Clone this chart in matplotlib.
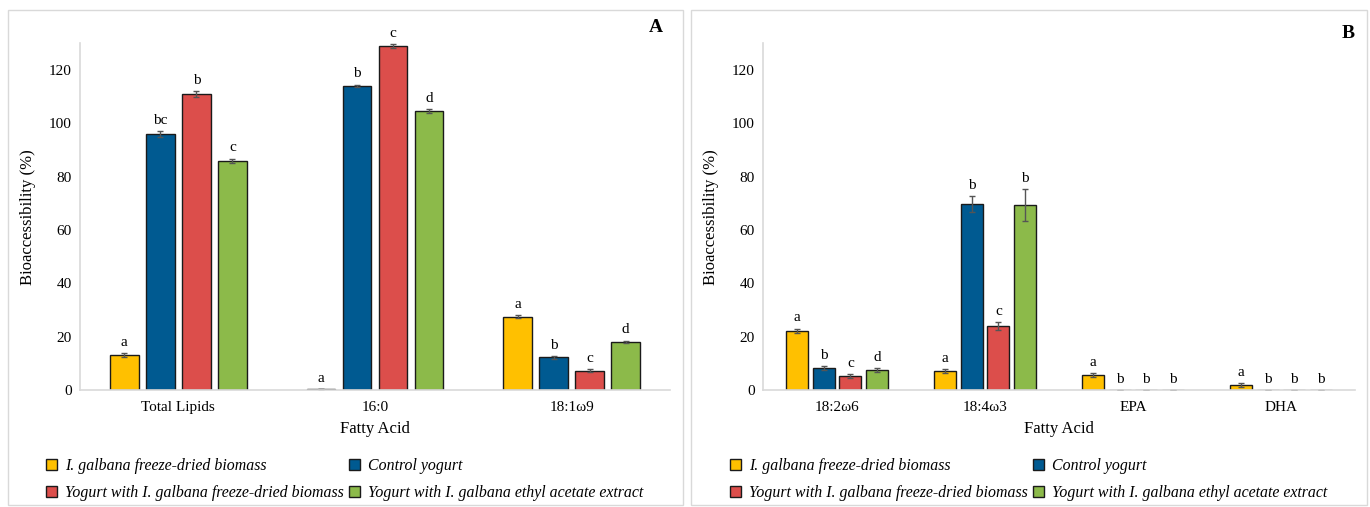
import matplotlib
matplotlib.use("Agg")
import matplotlib.pyplot as plt
from matplotlib.patches import Patch, Rectangle
import numpy as np

plt.rcParams['font.family'] = ['Liberation Serif', 'DejaVu Serif']

series = ["I. galbana freeze-dried biomass", "Control yogurt",
          "Yogurt with I. galbana freeze-dried biomass",
          "Yogurt with I. galbana ethyl acetate extract"]
colors = ["#FFC000", "#005A91", "#DC4E4B", "#8CBA4A"]

cats_a = ["Total Lipids", "16:0", "18:1ω9"]
vals_a = [[13.0, 0.3, 27.5],
          [96.0, 114.0, 12.3],
          [111.0, 129.0, 7.3],
          [86.0, 104.5, 18.0]]
errs_a = [[0.8, 0.0, 0.6],
          [1.0, 0.5, 0.5],
          [1.2, 0.8, 0.6],
          [0.8, 0.8, 0.5]]
lets_a = [["a", "a", "a"],
          ["bc", "b", "b"],
          ["b", "c", "c"],
          ["c", "d", "d"]]

cats_b = ["18:2ω6", "18:4ω3", "EPA", "DHA"]
vals_b = [[22.2, 7.0, 5.7, 1.8],
          [8.2, 69.8, 0.0, 0.0],
          [5.2, 24.0, 0.0, 0.0],
          [7.5, 69.3, 0.0, 0.0]]
errs_b = [[0.8, 0.8, 0.7, 0.7],
          [0.8, 3.0, 0.0, 0.0],
          [0.8, 1.5, 0.0, 0.0],
          [0.8, 6.0, 0.0, 0.0]]
lets_b = [["a", "a", "a", "a"],
          ["b", "b", "b", "b"],
          ["c", "c", "b", "b"],
          ["d", "b", "b", "b"]]

fig = plt.figure(figsize=(13.7, 5.07), dpi=100)

# panel borders
for (x0, x1) in [(8, 683), (691, 1367)]:
    fig.patches.append(Rectangle((x0 / 1370, 2 / 507), (x1 - x0) / 1370, 495 / 507,
                                 transform=fig.transFigure, fill=False,
                                 edgecolor="#d9d9d9", linewidth=1.0))

def panel(rect, cats, vals, errs, lets, letter, letter_pos, width, pitch, leg_anchor):
    ax = fig.add_axes(rect)
    x = np.arange(len(cats))
    for i in range(4):
        off = (i - 1.5) * pitch
        ax.bar(x + off, vals[i], width, color=colors[i], edgecolor="#1a1a1a",
               linewidth=1.0, yerr=errs[i], ecolor="#555555",
               error_kw=dict(capsize=2.5, elinewidth=1.0, capthick=1.0), zorder=2)
        for j in range(len(cats)):
            top = vals[i][j] + errs[i][j]
            ax.annotate(lets[i][j], (x[j] + off, top), xytext=(0, 3),
                        textcoords="offset points", ha="center", va="bottom",
                        fontsize=11)
    ax.set_xlim(-0.5, len(cats) - 0.5)
    ax.set_ylim(0, 130)
    ax.set_yticks(range(0, 121, 20))
    ax.set_xticks(x)
    ax.set_xticklabels(cats, fontsize=11)
    ax.tick_params(axis="both", length=0, labelsize=11, pad=6)
    ax.tick_params(axis="x", pad=8)
    for s in ["top", "right"]:
        ax.spines[s].set_visible(False)
    for s in ["left", "bottom"]:
        ax.spines[s].set_color("#d9d9d9")
        ax.spines[s].set_linewidth(1.2)
    ax.set_xlabel("Fatty Acid", fontsize=12, labelpad=5)
    ax.set_ylabel("Bioaccessibility (%)", fontsize=12, labelpad=9)
    fig.text(letter_pos[0] / 1370, 1 - letter_pos[1] / 507, letter, fontsize=14,
             fontweight="bold", ha="center", va="center")
    handles = [Patch(facecolor=colors[i], edgecolor="#1a1a1a", linewidth=1.0)
               for i in range(4)]
    order = [0, 2, 1, 3]
    ax.legend([handles[k] for k in order], [series[k] for k in order], ncol=2,
              loc="upper left", bbox_to_anchor=leg_anchor,
              bbox_transform=fig.transFigure, frameon=False,
              prop=dict(style="italic", size=11.4), handlelength=0.7,
              handleheight=0.7, handletextpad=0.5, columnspacing=0.3,
              labelspacing=0.7, borderaxespad=0, borderpad=0)
    return ax

panel([80 / 1370, 1 - 390 / 507, 590 / 1370, 346.7 / 507], cats_a, vals_a, errs_a,
      lets_a, "A", (656, 28), 0.145, 0.183, (46 / 1370, 1 - 458 / 507))
panel([763 / 1370, 1 - 390 / 507, 592 / 1370, 346.7 / 507], cats_b, vals_b, errs_b,
      lets_b, "B", (1348, 33), 0.15, 0.18, (730 / 1370, 1 - 458 / 507))

fig.savefig("out.png", dpi=100)
